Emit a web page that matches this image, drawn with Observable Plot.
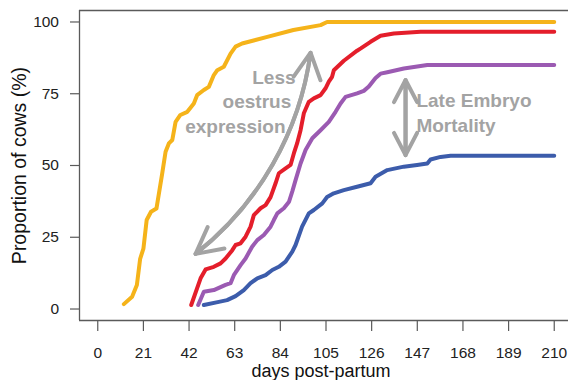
<!DOCTYPE html>
<html><head><meta charset="utf-8">
<script src="https://cdn.jsdelivr.net/npm/d3@7"></script>
<script src="https://cdn.jsdelivr.net/npm/@observablehq/plot@0.6"></script>
<style>
html,body{margin:0;padding:0;background:#fff;}
</style>
</head><body><div id="chart"></div>
<script>
// ---- data ----
const seriesNames = ["Oestrus", "Conception", "Early pregnancy", "Pregnancy"];
const seriesColors = ["#F5B31A", "#E41E2B", "#9B5AB2", "#3C5CAB"];

const oestrusData = [[12,1.7],[15.8,4.3],[18,8.4],[19.5,17.5],[21,21],[22.5,31],[24.5,33.9],[27,35],[29.6,47],[31.2,54.8],[32.7,57.7],[34.3,58.9],[35.8,65.2],[38,67.6],[41.2,68.7],[44.2,71.6],[45.7,74.5],[48.8,76.3],[51.1,77.4],[53.4,81.5],[55,83.2],[58,84.4],[61.1,89],[63.4,91.4],[66.4,92.5],[78,94.8],[90,97.2],[102.5,98.9],[105.5,100],[210,100]];
const conceptionData = [[43,1.4],[47.3,10.7],[49.6,13.8],[53.4,14.7],[56.5,15.9],[58.8,17.6],[61.9,20.5],[63.4,22.3],[65.7,22.9],[68,25.2],[70.3,28.7],[71.8,32.7],[74.9,35.1],[77.2,36.2],[79.5,39],[81.8,43.8],[83.3,47.3],[86.4,49],[88.7,50.2],[90.2,54.2],[91.7,57.7],[93.3,62.3],[94.8,68.2],[97.1,72.2],[99.4,73.4],[102.5,74.5],[104.8,76.9],[106.3,79.2],[107.8,80.9],[108.6,83.2],[113.2,86.5],[119.3,90],[121,90.8],[125.5,93.1],[130.1,95.2],[136.2,96],[148.5,96.6],[210,96.6]];
const earlyData = [[46.2,1.4],[48.8,6],[53.4,6.6],[58.8,8.4],[61.1,9],[62.6,11.8],[65.7,15.3],[68,17.6],[71,21.7],[73.4,24],[76.4,25.8],[79.5,28.7],[81,31],[82.6,33.3],[85.6,35.1],[88,37.4],[89.5,41],[91,44.9],[93.3,50.7],[95.6,55.4],[98.7,59.5],[102.5,62.3],[106.3,65.2],[109.4,68.7],[111.7,71.6],[114,73.9],[119.3,75.1],[122.4,76],[124.7,77.5],[127.8,80.5],[130.1,82],[133.2,82.5],[140.8,83.8],[151.6,85],[210,85]];
const pregnancyData = [[48.8,1.4],[55.7,2.5],[59.5,3.1],[63.4,4.5],[67.2,6.6],[70.3,9],[73.4,10.7],[77.2,11.8],[80.3,13.6],[83.3,14.7],[86.4,16.5],[89.5,20],[91,22.3],[94,28.7],[97.1,33.3],[99.4,34.5],[103.3,36.8],[105.5,39],[108.6,40.3],[113.2,41.4],[119.3,42.6],[125.5,43.8],[127.8,46.1],[133.2,48.4],[140.8,49.6],[146.9,50.2],[151.6,50.7],[153.1,52.1],[157.7,53],[162.3,53.4],[210,53.4]];

const xTicks = [0,21,42,63,84,105,126,147,168,189,210];
const yTicks = [0,25,50,75,100];
const xTitle = "days post-partum";
const yTitle = "Proportion of cows (%)";

const oestrusLines = ["Less", "oestrus", "expression"];
const oestrusLabelDay = [91.0, 89.0, 86.4];
const oestrusLabelPct = [80.4, 72.2, 63.5];
const lateLines = ["Late Embryo", "Mortality"];
const lateLabelDay = [146.6, 146.6];
const lateLabelPct = [72.4, 63.7];
// curved arrow endpoints [day, pct]
const curvedArrow = {from: [45, 19.2], to: [97.9, 89.3]};
// vertical arrow
const lateArrow = {day: 141.6, from: 53.6, to: 79.8};

// ---- build tables ----
const allSeries = [oestrusData, conceptionData, earlyData, pregnancyData];
const rows = allSeries.flatMap((s, i) => s.map(([day, pct]) => ({series: seriesNames[i], day, pct})));
const oestrusText = oestrusLines.map((t, i) => ({t, day: oestrusLabelDay[i], pct: oestrusLabelPct[i]}));
const lateText = lateLines.map((t, i) => ({t, day: lateLabelDay[i], pct: lateLabelPct[i]}));
const gray = "#A3A3A3";
const axisGray = "#5a5a5a";
const arrowStyle = {stroke: gray, strokeWidth: 4, headLength: 11, headAngle: 55, strokeLinejoin: "miter"};

const chart = Plot.plot({
  width: 568, height: 380,
  marginLeft: 79, marginRight: 0, marginTop: 10, marginBottom: 60,
  style: {fontFamily: "'Liberation Sans', Arial, sans-serif", background: "#fff", color: "#222"},
  x: {domain: [-8.4, 218.4], range: [79, 572]},
  y: {domain: [-4, 104]},
  color: {domain: seriesNames, range: seriesColors},
  marks: [
    Plot.ruleX([-8.4], {stroke: axisGray, strokeWidth: 1.3}),
    Plot.ruleY([-4], {stroke: axisGray, strokeWidth: 1.3}),
    Plot.ruleY([104], {stroke: axisGray, strokeWidth: 1.3}),
    Plot.axisY(yTicks, {anchor: "left", tickSize: 9, tickPadding: 11.5, fontSize: 15.5, stroke: axisGray, strokeWidth: 1.2, fill: "#222", label: null}),
    Plot.axisX(xTicks, {anchor: "bottom", tickSize: 11, tickPadding: 15.5, fontSize: 15.5, stroke: axisGray, strokeWidth: 1.2, fill: "#222", label: null}),
    Plot.text([yTitle], {frameAnchor: "left", textAnchor: "middle", lineAnchor: "middle", dx: -60, rotate: -90, fontSize: 19.5, fill: "#111", text: d => d}),
    Plot.text([xTitle], {frameAnchor: "bottom", textAnchor: "middle", lineAnchor: "middle", dy: 51, dx: -3, fontSize: 18, fill: "#111", text: d => d}),
    Plot.line(rows, {x: "day", y: "pct", z: "series", stroke: "series", strokeWidth: 4, strokeLinejoin: "round", strokeLinecap: "round"}),
    Plot.arrow([curvedArrow], {x1: d => d.from[0], y1: d => d.from[1], x2: d => d.to[0], y2: d => d.to[1], bend: -22, ...arrowStyle}),
    Plot.arrow([curvedArrow], {x1: d => d.to[0], y1: d => d.to[1], x2: d => d.from[0], y2: d => d.from[1], bend: 22, ...arrowStyle}),
    Plot.arrow([lateArrow], {x1: "day", x2: "day", y1: "from", y2: "to", ...arrowStyle}),
    Plot.arrow([lateArrow], {x1: "day", x2: "day", y1: "to", y2: "from", ...arrowStyle}),
    Plot.text(oestrusText, {x: "day", y: "pct", text: "t", textAnchor: "end", fill: gray, fontWeight: "bold", fontSize: 19}),
    Plot.text(lateText, {x: "day", y: "pct", text: "t", textAnchor: "start", fill: gray, fontWeight: "bold", fontSize: 19})
  ]
});
document.getElementById("chart").appendChild(chart);
</script>
</body></html>
